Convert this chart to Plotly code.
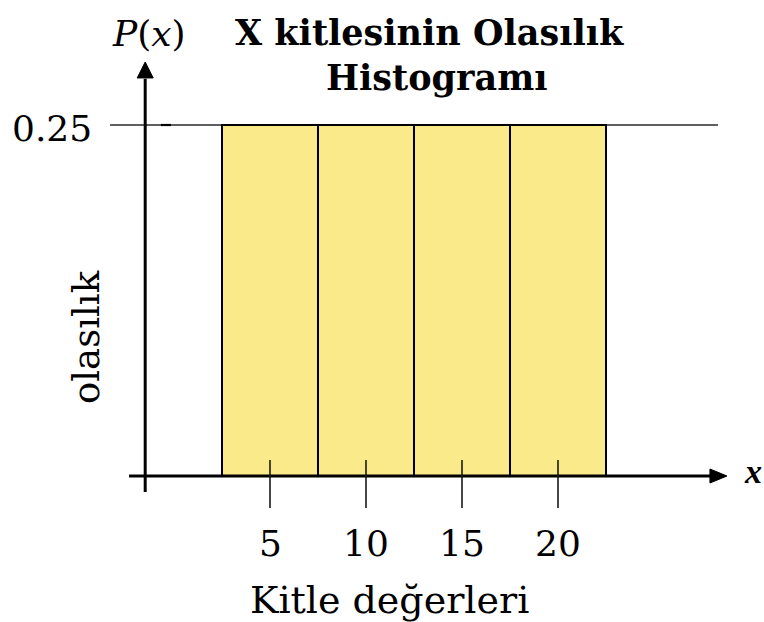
import plotly.graph_objects as go

# Population values and their probabilities
values = [5, 10, 15, 20]
probs = [0.25, 0.25, 0.25, 0.25]
tick_labels = ["5", "10", "15", "20"]
bin_width = 5
p_level = 0.25

title_lines = ["X kitlesinin Olasılık", "Histogramı"]
x_title = "Kitle değerleri"
y_title = "olasılık"

SERIF = "DejaVu Serif"
W, H = 764, 622

# Axis ranges chosen so the plotting area fills the whole canvas
x_rng = [-9.0625, 30.729]
y_rng = [-0.10399, 0.33903]

fig = go.Figure()

fig.add_trace(go.Bar(
    x=values, y=probs, width=[bin_width] * len(values),
    marker=dict(color="#FAEA8A", line=dict(color="black", width=2)),
    hoverinfo="x+y", showlegend=False,
))

shapes = []
# reference line at P = 0.25
shapes.append(dict(type="line", xref="x", yref="y", x0=-3.33, x1=28.33,
                   y0=p_level, y1=p_level, line=dict(color="#2a2a2a", width=1.6), layer="below"))
shapes.append(dict(type="line", xref="x", yref="y", x0=-0.68, x1=-0.16,
                   y0=p_level, y1=p_level, line=dict(color="black", width=2.2)))
# vertical axis with arrow
y_axis_x = -1.5
shapes.append(dict(type="line", xref="x", yref="y", x0=y_axis_x, x1=y_axis_x,
                   y0=-0.0114, y1=0.283, line=dict(color="black", width=3)))
shapes.append(dict(type="path", xref="x", yref="y", xsizemode="pixel", ysizemode="pixel",
                   xanchor=y_axis_x, yanchor=0.2949,
                   path="M 0,0 L -8,-16 L 8,-16 Z",
                   fillcolor="black", line=dict(color="black", width=1)))
# horizontal axis with arrow
shapes.append(dict(type="line", xref="x", yref="y", x0=-2.34, x1=28.0,
                   y0=0, y1=0, line=dict(color="black", width=3)))
shapes.append(dict(type="path", xref="x", yref="y", xsizemode="pixel", ysizemode="pixel",
                   xanchor=28.8, yanchor=0,
                   path="M 0,0 L -17,7 L -17,-7 Z",
                   fillcolor="black", line=dict(color="black", width=1)))
# tick marks at bin centres
for v in values:
    shapes.append(dict(type="line", xref="x", yref="y", x0=v, x1=v,
                       y0=0.0114, y1=-0.0228, line=dict(color="#1a1a1a", width=1.6)))

annotations = []
for v, lab in zip(values, tick_labels):
    annotations.append(dict(x=v, y=-0.0484, xref="x", yref="y", text=lab, showarrow=False,
                            font=dict(family=SERIF, size=36, color="black")))
annotations.append(dict(x=-6.354, y=p_level, yshift=-3, xref="x", yref="y", text="0.25",
                        showarrow=False, font=dict(family=SERIF, size=36, color="black")))
annotations.append(dict(x=11.2, y=-0.0883, xref="x", yref="y", text=x_title, showarrow=False,
                        font=dict(family=SERIF, size=38, color="black")))
annotations.append(dict(x=-4.583, y=0.099, xref="x", yref="y", text=y_title, showarrow=False,
                        textangle=-90, font=dict(family=SERIF, size=37, color="black")))
annotations.append(dict(x=-1.302, y=0.3155, xref="x", yref="y", text="<i>P</i>(<i>x</i>)",
                        showarrow=False, font=dict(family=SERIF, size=36, color="black")))
annotations.append(dict(x=30.16, y=0.0029, xref="x", yref="y", text="<b><i>x</i></b>",
                        showarrow=False, font=dict(family="Liberation Serif", size=34, color="black")))
# two-line bold title
for txt, xc, yc in zip(title_lines, [13.3, 13.7], [0.3162, 0.2835]):
    annotations.append(dict(x=xc, y=yc, xref="x", yref="y", text="<b>" + txt + "</b>",
                            showarrow=False, font=dict(family=SERIF, size=35, color="black")))

fig.update_layout(
    width=W, height=H,
    margin=dict(l=0, r=0, t=0, b=0),
    paper_bgcolor="white", plot_bgcolor="white",
    xaxis=dict(range=x_rng, visible=False, fixedrange=True),
    yaxis=dict(range=y_rng, visible=False, fixedrange=True),
    shapes=shapes, annotations=annotations,
    bargap=0, showlegend=False,
)

fig.write_html("out.html")
